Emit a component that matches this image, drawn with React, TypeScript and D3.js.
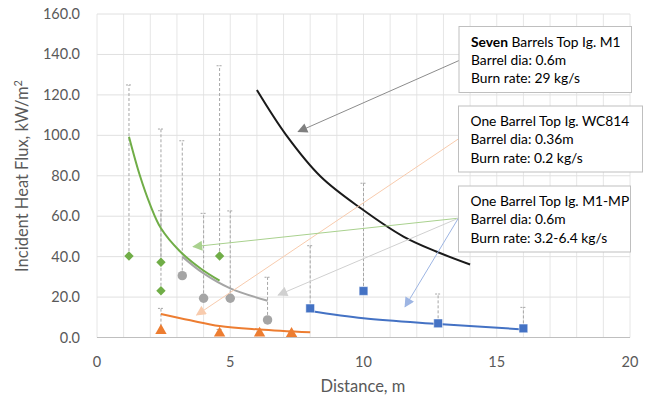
import React from "react";
import * as d3 from "d3";

// ---------- data ----------
const xTicks = [0, 5, 10, 15, 20];
const yTicks = [0, 20, 40, 60, 80, 100, 120, 140, 160];

// green: diamonds (x, y, upper error)
const greenX = [1.2, 2.4, 2.4, 4.6];
const greenY = [40.3, 37.2, 23.1, 40.3];
const greenUp = [124.9, 103.1, 62.7, 134.4];
const greenCurveX = [1.2, 1.6, 2.0, 2.4, 3.1, 3.9, 4.6];
const greenCurveY = [99.3, 80.5, 65.5, 54, 42.8, 34.0, 28.1];

// gray: circles
const grayX = [3.2, 4.0, 5.0, 6.4];
const grayY = [30.6, 19.4, 19.4, 8.7];
const grayUp = [97.3, 61.4, 62.6, 29.8];
const grayCurveX = [3.2, 4.0, 5.0, 6.4];
const grayCurveY = [40, 31.7, 24.3, 18.2];

// orange: triangles
const orangeX = [2.4, 4.6, 6.1, 7.3];
const orangeY = [2.9, 1.6, 1.6, 1.4];
const orangeUp = [14.4, 4.0, 2.6, 2.4];
const orangeCurveX = [2.4, 3.5, 4.6, 6.1, 8.0];
const orangeCurveY = [11.6, 8.5, 5.7, 4.0, 2.6];

// blue: squares
const blueX = [8.0, 10.0, 12.8, 16.0];
const blueY = [14.4, 23.0, 7.0, 4.5];
const blueUp = [45.4, 76.3, 21.5, 14.9];
const blueCurveX = [8.0, 10.0, 12.8, 16.0];
const blueCurveY = [13.1, 9.5, 6.7, 4.0];

// black: M1 seven barrels curve
const blackCurveX = [6.0, 7.1, 8.4, 9.9, 11.5, 12.75, 14.0];
const blackCurveY = [122.4, 100.1, 79.5, 63.9, 49.9, 42.4, 36.1];

// callout texts
const box1Bold = "Seven";
const box1Lines = [" Barrels Top Ig. M1", "Barrel dia: 0.6m", "Burn rate: 29 kg/s"];
const box2Lines = ["One Barrel Top Ig. WC814", "Barrel dia: 0.36m", "Burn rate: 0.2 kg/s"];
const box3Lines = ["One Barrel Top Ig. M1-MP", "Barrel dia: 0.6m", "Burn rate: 3.2-6.4 kg/s"];

// arrows in data units: [x1, y1, x2, y2]
const arrowGray = [13.62, 137.2, 7.55, 101.8];
const arrowOrange = [13.56, 98.2, 3.74, 11.1];
const arrowGreen = [13.56, 59, 3.61, 44.9];
const arrowLightGray = [13.56, 59, 6.8, 21.0];
const arrowBlue = [13.56, 59, 11.56, 15.2];

const W = 652;
const H = 400;
const M = { left: 97, right: 630, top: 14, bottom: 337.5 };
const FONT = "Lato, 'Open Sans', sans-serif";
const TXT = "#595959";

export default function App() {
  const x = d3.scaleLinear().domain([0, 20]).range([M.left, M.right]);
  const y = d3.scaleLinear().domain([0, 160]).range([M.bottom, M.top]);

  const line = d3
    .line<[number, number]>()
    .x((d) => x(d[0]))
    .y((d) => y(d[1]))
    .curve(d3.curveCatmullRom.alpha(0.5));
  const zip = (a: number[], b: number[]) => a.map((v, i) => [v, b[i]] as [number, number]);

  const minorX = d3.range(0, 21, 1);

  const errBars = (xs: number[], ys: number[], ups: number[], key: string) =>
    xs.map((xv, i) => (
      <g key={key + i}>
        <line x1={x(xv)} x2={x(xv)} y1={y(ys[i])} y2={y(ups[i])} stroke="#a6a6a6" strokeWidth={1} strokeDasharray="3,2" />
        <line x1={x(xv) - 3} x2={x(xv) + 3} y1={y(ups[i])} y2={y(ups[i])} stroke="#a6a6a6" strokeWidth={1} strokeDasharray="2,1" />
      </g>
    ));

  const diamond = d3.symbol().type(d3.symbolDiamond2).size(56)();
  const circle = d3.symbol().type(d3.symbolCircle).size(70)();
  const square = d3.symbol().type(d3.symbolSquare).size(76)();
  const tri = d3.symbol().type(d3.symbolTriangle).size(56)();

  const arrow = (a: number[], color: string, id: string, w = 1) => (
    <line
      x1={x(a[0])}
      y1={y(a[1])}
      x2={x(a[2])}
      y2={y(a[3])}
      stroke={color}
      strokeWidth={w}
      markerEnd={`url(#${id})`}
    />
  );

  const box = (bx: number, by: number, bw: number, bh: number, lines: React.ReactNode[]) => (
    <g>
      <rect x={bx} y={by} width={bw} height={bh} fill="#fff" stroke="#bfbfbf" strokeWidth={1} />
      {lines.map((l, i) => (
        <text key={i} x={bx + 12} y={by + 20 + i * 18.3} fontSize={13.8} fill="#000" fontFamily={FONT}>
          {l}
        </text>
      ))}
    </g>
  );

  return (
    <svg width={W} height={H} style={{ position: "absolute", left: 0, top: 0, background: "#fff" }}>
      <defs>
        {[
          ["ahGray", "#7f7f7f"],
          ["ahOrange", "#f8cbad"],
          ["ahGreen", "#a9d18e"],
          ["ahLGray", "#d0d0d0"],
          ["ahBlue", "#9db5e3"],
        ].map(([id, c]) => (
          <marker key={id} id={id} viewBox="0 0 10 10" refX="9" refY="5" markerWidth="12" markerHeight="10" markerUnits="userSpaceOnUse" orient="auto">
            <path d="M0,0 L10,5 L0,10 z" fill={c} />
          </marker>
        ))}
      </defs>
      <rect width={W} height={H} fill="#fff" />
      {/* gridlines */}
      {minorX.map((v) => (
        <line key={"gx" + v} x1={x(v)} x2={x(v)} y1={M.top} y2={M.bottom} stroke="#e6e6e6" strokeWidth={1} />
      ))}
      {yTicks.map((v) => (
        <line key={"gy" + v} x1={M.left} x2={M.right} y1={y(v)} y2={y(v)} stroke="#e0e0e0" strokeWidth={1} />
      ))}
      <line x1={M.left} x2={M.right} y1={M.bottom} y2={M.bottom} stroke="#bfbfbf" strokeWidth={1.2} />

      {/* tick labels */}
      {yTicks.map((v) => (
        <text key={"yt" + v} x={80} y={y(v) + 5} textAnchor="end" fontSize={14.5} fill={TXT} fontFamily={FONT}>
          {v.toFixed(1)}
        </text>
      ))}
      {xTicks.map((v) => (
        <text key={"xt" + v} x={x(v)} y={367} textAnchor="middle" fontSize={14.5} fill={TXT} fontFamily={FONT}>
          {v}
        </text>
      ))}
      <text x={363} y={392} textAnchor="middle" fontSize={16.5} fill={TXT} fontFamily={FONT}>
        Distance, m
      </text>
      <text transform="translate(28,176) rotate(-90)" textAnchor="middle" fontSize={16.5} fill={TXT} fontFamily={FONT}>
        Incident Heat Flux, kW/m<tspan dy={-6} fontSize={11}>2</tspan>
      </text>

      {/* error bars */}
      {errBars(greenX, greenY, greenUp, "ge")}
      {errBars(grayX, grayY, grayUp, "ye")}
      {errBars(orangeX, orangeY, orangeUp, "oe")}
      {errBars(blueX, blueY, blueUp, "be")}

      {/* curves */}
      <path d={line(zip(grayCurveX, grayCurveY)) || ""} fill="none" stroke="#a5a5a5" strokeWidth={2} />
      <path d={line(zip(greenCurveX, greenCurveY)) || ""} fill="none" stroke="#70ad47" strokeWidth={2} />
      <path d={line(zip(orangeCurveX, orangeCurveY)) || ""} fill="none" stroke="#ed7d31" strokeWidth={2} />
      <path d={line(zip(blueCurveX, blueCurveY)) || ""} fill="none" stroke="#4472c4" strokeWidth={2} />
      <path d={line(zip(blackCurveX, blackCurveY)) || ""} fill="none" stroke="#1a1a1a" strokeWidth={2} />

      {/* markers */}
      {greenX.map((v, i) => (
        <path key={"gm" + i} d={diamond || ""} transform={`translate(${x(v)},${y(greenY[i])})`} fill="#70ad47" />
      ))}
      {grayX.map((v, i) => (
        <path key={"ym" + i} d={circle || ""} transform={`translate(${x(v)},${y(grayY[i])})`} fill="#a5a5a5" />
      ))}
      {orangeX.map((v, i) => (
        <path key={"om" + i} d={tri || ""} transform={`translate(${x(v)},${y(orangeY[i]) - 1})`} fill="#ed7d31" />
      ))}
      {blueX.map((v, i) => (
        <path key={"bm" + i} d={square || ""} transform={`translate(${x(v)},${y(blueY[i])})`} fill="#4472c4" stroke="#fff" strokeWidth={0.5} />
      ))}

      {/* arrows */}
      {arrow(arrowOrange, "#f8cbad", "ahOrange")}
      {arrow(arrowGreen, "#a9d18e", "ahGreen")}
      {arrow(arrowLightGray, "#d0d0d0", "ahLGray")}
      {arrow(arrowBlue, "#9db5e3", "ahBlue")}
      {arrow(arrowGray, "#8c8c8c", "ahGray")}

      {/* callouts */}
      {box(459, 26.5, 172.5, 66, [
        <tspan key="b">
          <tspan fontWeight="bold">{box1Bold}</tspan>
          {box1Lines[0]}
        </tspan>,
        box1Lines[1],
        box1Lines[2],
      ])}
      {box(458.5, 106, 184, 66, box2Lines)}
      {box(458.5, 186, 172, 66, box3Lines)}
    </svg>
  );
}
